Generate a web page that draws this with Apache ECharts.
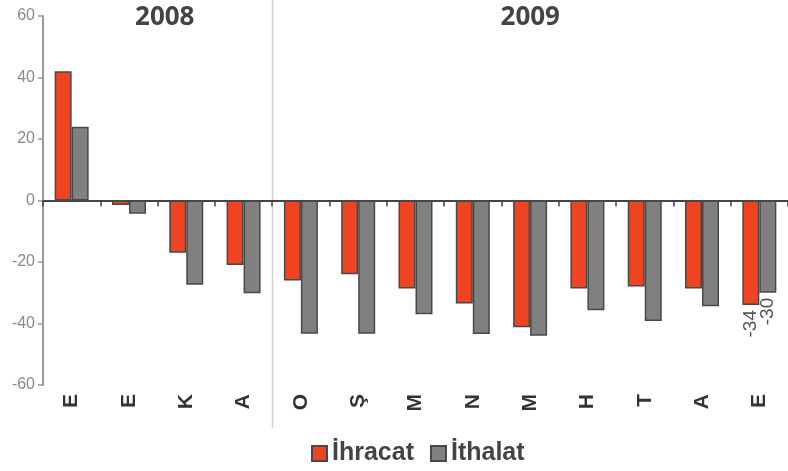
<!DOCTYPE html>
<html>
<head>
<meta charset="utf-8">
<script src="https://cdn.jsdelivr.net/npm/echarts@6/dist/echarts.min.js"></script>
<style>html,body{margin:0;padding:0;background:#fff;}#c{width:788px;height:471px;}</style>
</head>
<body>
<div id="c"></div>
<script>
var categories = ['E','E','K','A','O','Ş','M','N','M','H','T','A','E'];
var ihracat = [42, -1.5, -17, -21, -26, -24, -28.6, -33.5, -41.2, -28.6, -28, -28.6, -34];
var ithalat = [24, -4.3, -27.4, -30.2, -43.3, -43.3, -37, -43.4, -44, -35.7, -39.2, -34.4, -30];
var yearLabels = ['2008', '2009'];
var yTicks = {min: -60, max: 60, interval: 20};
var splitIndex = 4; // first category of 2009

var chart = echarts.init(document.getElementById('c'));

function withLastLabel(arr) {
  return arr.map(function (v, i) {
    if (i === arr.length - 1) {
      return {value: v, label: {show: true}};
    }
    return v;
  });
}

var labelStyle = {
  show: false,
  position: 'bottom',
  rotate: 90,
  align: 'right',
  verticalAlign: 'middle',
  distance: 5,
  fontSize: 19,
  color: '#555',
  fontFamily: 'Liberation Sans, Arial, sans-serif',
  formatter: function (p) { return Math.round(p.value); }
};

var option = {
  animation: false,
  grid: {left: 43, right: 0, top: 16, bottom: 86, containLabel: false},
  xAxis: [{
    type: 'category',
    data: categories,
    axisLine: {onZero: true, lineStyle: {color: '#444', width: 2}},
    axisTick: {show: true, length: 6, lineStyle: {color: '#444', width: 1.5}},
    axisLabel: {show: false}
  }, {
    type: 'category',
    data: categories,
    position: 'bottom',
    axisLine: {show: false, onZero: false},
    axisTick: {show: false},
    axisLabel: {
      show: true, rotate: 90, margin: 9,
      fontSize: 21, fontWeight: 'bold', color: '#333',
      fontFamily: 'Liberation Sans, Arial, sans-serif'
    }
  }],
  yAxis: {
    type: 'value',
    min: yTicks.min, max: yTicks.max, interval: yTicks.interval,
    axisLine: {show: true, lineStyle: {color: '#999', width: 2}},
    axisTick: {show: true, length: 5, lineStyle: {color: '#999', width: 1.5}},
    splitLine: {show: false},
    axisLabel: {fontSize: 16, color: '#888', margin: 8, fontFamily: 'Liberation Sans, Arial, sans-serif'}
  },
  legend: {
    bottom: 0,
    left: 306,
    itemWidth: 15, itemHeight: 15,
    itemGap: 16,
    icon: 'rect',
    textStyle: {fontSize: 25, fontWeight: 'bold', color: '#444', fontFamily: 'Liberation Sans, Arial, sans-serif'},
    data: ['İhracat', 'İthalat']
  },
  series: [{
    name: 'İhracat',
    type: 'bar',
    xAxisIndex: 0,
    barWidth: 17,
    barGap: '0%',
    itemStyle: {color: '#EE4422', borderColor: '#484848', borderWidth: 1.5},
    label: labelStyle,
    data: withLastLabel(ihracat)
  }, {
    name: 'İthalat',
    type: 'bar',
    xAxisIndex: 0,
    barWidth: 17,
    barGap: '0%',
    itemStyle: {color: '#808080', borderColor: '#484848', borderWidth: 1.5},
    label: labelStyle,
    data: withLastLabel(ithalat)
  }]
};
chart.setOption(option);

// separator between years and year titles
var p1 = chart.convertToPixel({xAxisIndex: 0}, splitIndex - 1);
var p2 = chart.convertToPixel({xAxisIndex: 0}, splitIndex);
var sepX = Math.round((p1 + p2) / 2) + 0.5;
var first = chart.convertToPixel({xAxisIndex: 0}, 0);
var last = chart.convertToPixel({xAxisIndex: 0}, categories.length - 1);
var half = (p2 - p1) / 2;
var c2008 = ((first - half) + sepX) / 2 + 7;
var c2009 = (sepX + (last + half)) / 2;

chart.setOption({
  graphic: [{
    type: 'line',
    shape: {x1: sepX, y1: 0, x2: sepX, y2: 428},
    style: {stroke: '#d0d0d0', lineWidth: 1.5},
    z: 0
  }, {
    type: 'text',
    x: c2008, y: 18,
    style: {text: yearLabels[0], textAlign: 'center', textVerticalAlign: 'middle',
      font: 'bold 26px "Open Sans", sans-serif', fill: '#444'}
  }, {
    type: 'text',
    x: c2009, y: 18,
    style: {text: yearLabels[1], textAlign: 'center', textVerticalAlign: 'middle',
      font: 'bold 26px "Open Sans", sans-serif', fill: '#444'}
  }]
});
</script>
</body>
</html>
